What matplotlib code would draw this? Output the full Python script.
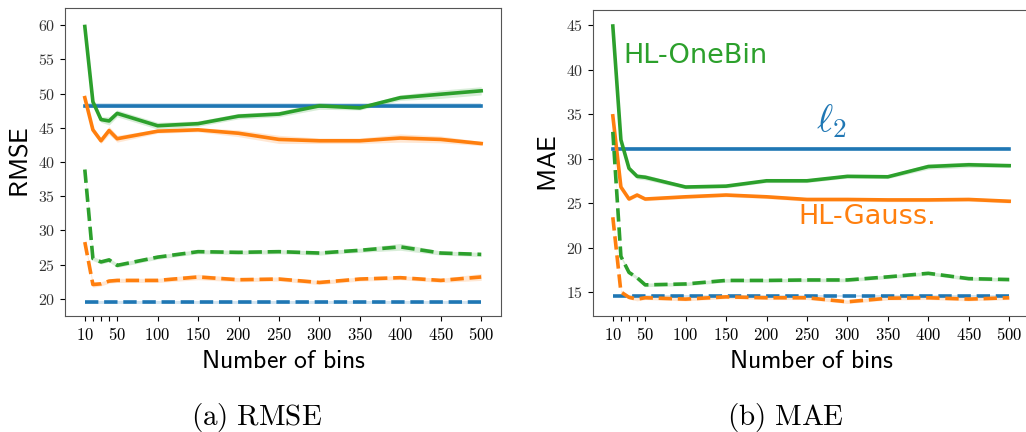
import numpy as np
import matplotlib
matplotlib.use("Agg")
import matplotlib.pyplot as plt

plt.rcParams['mathtext.fontset'] = 'cm'
plt.rcParams['axes.unicode_minus'] = False

C_L2, C_GAUSS, C_ONEBIN = '#1f77b4', '#ff7f0e', '#2ca02c'

bins = [10, 20, 30, 40, 50, 100, 150, 200, 250, 300, 350, 400, 450, 500]

# RMSE: solid = test, dashed = train
rmse_onebin_test = [59.8, 48.8, 46.2, 46.0, 47.1, 45.3, 45.6, 46.7, 47.0, 48.2, 47.9, 49.4, 49.9, 50.4]
rmse_onebin_test_sd = [0.3, 0.3, 0.4, 0.6, 0.5, 0.5, 0.4, 0.4, 0.4, 0.5, 0.3, 0.4, 0.6, 0.6]
rmse_gauss_test = [49.4, 44.7, 43.1, 44.6, 43.4, 44.5, 44.7, 44.2, 43.3, 43.1, 43.1, 43.5, 43.3, 42.7]
rmse_gauss_test_sd = [0.3, 0.4, 0.4, 0.6, 0.5, 0.3, 0.3, 0.5, 0.6, 0.4, 0.4, 0.6, 0.5, 0.3]
rmse_l2_test = 48.25
rmse_onebin_train = [38.9, 25.9, 25.4, 25.7, 24.9, 26.1, 26.9, 26.8, 26.9, 26.7, 27.1, 27.6, 26.7, 26.5]
rmse_onebin_train_sd = [0.3, 0.3, 0.3, 0.3, 0.3, 0.3, 0.3, 0.3, 0.3, 0.3, 0.3, 0.5, 0.3, 0.3]
rmse_gauss_train = [28.3, 22.1, 22.2, 22.6, 22.7, 22.7, 23.2, 22.8, 22.9, 22.4, 22.9, 23.1, 22.7, 23.2]
rmse_gauss_train_sd = [0.3, 0.4, 0.3, 0.3, 0.3, 0.3, 0.4, 0.3, 0.3, 0.3, 0.3, 0.3, 0.3, 0.5]
rmse_l2_train = 19.5

# MAE
mae_onebin_test = [44.9, 32.1, 28.9, 28.0, 27.9, 26.8, 26.9, 27.5, 27.5, 28.0, 27.95, 29.1, 29.3, 29.2]
mae_onebin_test_sd = [0.2, 0.2, 0.2, 0.3, 0.3, 0.2, 0.2, 0.2, 0.2, 0.2, 0.2, 0.3, 0.3, 0.2]
mae_gauss_test = [34.8, 26.8, 25.45, 25.9, 25.45, 25.7, 25.9, 25.7, 25.4, 25.4, 25.35, 25.35, 25.4, 25.2]
mae_gauss_test_sd = [0.2] * 14
mae_l2_test = 31.1
mae_onebin_train = [33.0, 19.0, 17.2, 16.6, 15.8, 15.9, 16.3, 16.3, 16.35, 16.35, 16.7, 17.1, 16.5, 16.4]
mae_onebin_train_sd = [0.2] * 14
mae_gauss_train = [23.4, 15.0, 14.4, 14.2, 14.35, 14.2, 14.45, 14.35, 14.35, 13.9, 14.3, 14.35, 14.2, 14.35]
mae_gauss_train_sd = [0.2] * 14
mae_l2_train = 14.55

xticks = [10, 20, 30, 40, 50, 100, 150, 200, 250, 300, 350, 400, 450, 500]
xticklabels = ['10', '', '', '', '50', '100', '150', '200', '250', '300', '350', '400', '450', '500']


def curve(ax, y, sd, color, ls):
    y = np.asarray(y, dtype=float)
    sd = np.asarray(sd, dtype=float)
    ax.fill_between(bins, y - sd, y + sd, color=color, alpha=0.18, lw=0)
    ax.plot(bins, y, color=color, ls=ls, lw=2.6)


def setup(ax, ylabel, yticks, ylim):
    ax.set_xlim(-14.5, 524.5)
    ax.set_ylim(*ylim)
    ax.set_xticks(xticks)
    ax.set_xticklabels([r'$\mathsf{%s}$' % t if t else '' for t in xticklabels], fontsize=12)
    ax.set_yticks(yticks)
    ax.set_yticklabels([r'$%d$' % t for t in yticks], fontsize=11.5, color='#333333')
    ax.set_ylabel(r'$\mathsf{%s}$' % ylabel, fontsize=19)
    ax.yaxis.set_label_coords(-0.072, 0.5)
    ax.set_xlabel(r'$\mathsf{Number\ of\ bins}$', fontsize=18.5, labelpad=3)
    for s in ax.spines.values():
        s.set_color('#555555')
    ax.tick_params(length=3.5, width=0.8)


fig = plt.figure(figsize=(10.26, 4.32), dpi=100)
ax1 = fig.add_axes([65 / 1026, 116 / 432, 436 / 1026, 308 / 432])
ax2 = fig.add_axes([593 / 1026, 116 / 432, 436 / 1026, 306 / 432])

# (a) RMSE
curve(ax1, np.full(len(bins), rmse_l2_test), [0.35] * 14, C_L2, '-')
curve(ax1, rmse_gauss_test, rmse_gauss_test_sd, C_GAUSS, '-')
curve(ax1, rmse_onebin_test, rmse_onebin_test_sd, C_ONEBIN, '-')
curve(ax1, np.full(len(bins), rmse_l2_train), [0.2] * 14, C_L2, '--')
curve(ax1, rmse_gauss_train, rmse_gauss_train_sd, C_GAUSS, '--')
curve(ax1, rmse_onebin_train, rmse_onebin_train_sd, C_ONEBIN, '--')
setup(ax1, 'RMSE', range(20, 61, 5), (17.5, 62.5))

# (b) MAE
curve(ax2, np.full(len(bins), mae_l2_test), [0.15] * 14, C_L2, '-')
curve(ax2, mae_gauss_test, mae_gauss_test_sd, C_GAUSS, '-')
curve(ax2, mae_onebin_test, mae_onebin_test_sd, C_ONEBIN, '-')
curve(ax2, np.full(len(bins), mae_l2_train), [0.15] * 14, C_L2, '--')
curve(ax2, mae_gauss_train, mae_gauss_train_sd, C_GAUSS, '--')
curve(ax2, mae_onebin_train, mae_onebin_train_sd, C_ONEBIN, '--')
setup(ax2, 'MAE', range(15, 46, 5), (12.3, 46.7))

ax2.text(23, 40.7, 'HL-OneBin', color=C_ONEBIN, fontsize=19.5, va='baseline')
ax2.text(239, 22.6, 'HL-Gauss.', color=C_GAUSS, fontsize=19.5, va='baseline')
ax2.text(261, 33.0, r'$\ell_2$', color=C_L2, fontsize=28, va='baseline')

fig.text(257 / 1026, 15 / 432, r'$\mathrm{(a)\ RMSE}$', fontsize=21, ha='center', va='center')
fig.text(785 / 1026, 15 / 432, r'$\mathrm{(b)\ MAE}$', fontsize=21, ha='center', va='center')

fig.savefig('out.png', dpi=100)
